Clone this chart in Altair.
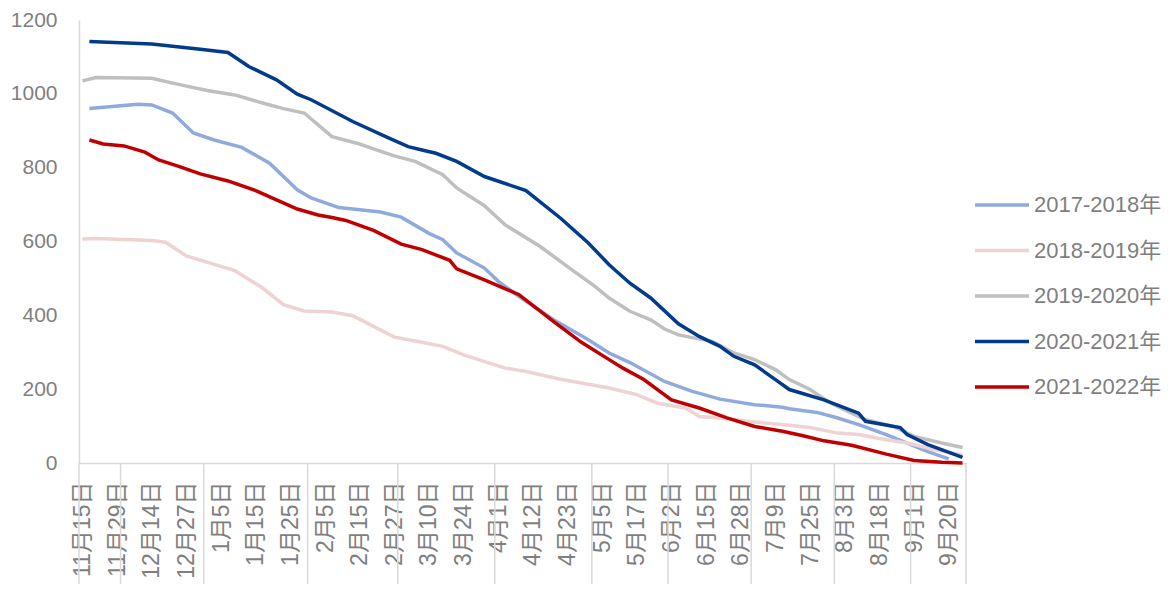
import altair as alt
import pandas as pd

# ---- data (category index -> value) ----
series_names = ["2017-2018年", "2018-2019年", "2019-2020年", "2020-2021年", "2021-2022年"]
series_colors = ["#8FAADC", "#EDD3D3", "#BFBFBF", "#023B8B", "#C00000"]

s2017_idx = [1, 8, 10, 13, 16, 19, 23, 27, 31, 33, 37, 43, 46, 50, 52, 54, 58, 60, 63, 68, 73, 76, 79, 84, 88, 92, 97, 101, 102, 106, 109, 112, 116, 119, 122, 125]
s2017_val = [960, 972, 970, 948, 894, 875, 855, 812, 740, 718, 692, 680, 666, 622, 605, 569, 528, 492, 451, 388, 334, 298, 272, 221, 194, 173, 158, 151, 147, 137, 122, 104, 77, 54, 31, 11]

s2018_idx = [0, 2, 10, 12, 15, 22, 26, 29, 32, 36, 39, 42, 45, 49, 52, 55, 61, 64, 69, 76, 80, 83, 87, 89, 92, 96, 102, 105, 109, 112, 116, 119, 123, 127]
s2018_val = [607, 608, 603, 598, 561, 521, 474, 429, 412, 409, 399, 370, 341, 327, 316, 293, 257, 248, 227, 203, 185, 162, 149, 126, 122, 113, 102, 96, 81, 77, 63, 54, 36, 22]

s2019_idx = [0, 2, 10, 13, 18, 22, 26, 29, 32, 36, 40, 42, 45, 48, 52, 54, 58, 61, 66, 70, 74, 76, 79, 82, 84, 86, 91, 94, 97, 100, 102, 105, 108, 113, 117, 120, 124, 127]
s2019_val = [1035, 1044, 1042, 1029, 1009, 997, 975, 960, 948, 884, 864, 851, 832, 817, 781, 745, 697, 645, 587, 532, 478, 447, 411, 388, 363, 347, 329, 298, 280, 253, 226, 199, 162, 117, 99, 72, 54, 42]

s2020_idx = [1, 10, 17, 21, 24, 28, 31, 33, 39, 44, 47, 49, 51, 54, 58, 64, 69, 73, 76, 79, 82, 86, 89, 92, 94, 97, 100, 102, 107, 112, 113, 118, 119, 122, 127]
s2020_val = [1142, 1135, 1121, 1112, 1074, 1038, 999, 984, 925, 882, 857, 848, 839, 817, 776, 738, 663, 596, 537, 487, 447, 377, 343, 316, 289, 266, 226, 199, 171, 135, 113, 96, 77, 50, 15]

s2021_idx = [1, 3, 6, 9, 11, 14, 17, 21, 25, 28, 31, 34, 36, 38, 42, 46, 49, 53, 54, 58, 63, 68, 72, 76, 78, 81, 85, 89, 93, 97, 101, 104, 107, 111, 116, 120, 124, 127]
s2021_val = [875, 864, 859, 842, 821, 803, 783, 764, 738, 713, 688, 672, 665, 657, 630, 593, 578, 549, 526, 496, 456, 383, 327, 280, 257, 226, 171, 149, 122, 99, 86, 74, 60, 48, 24, 7, 2, 0]

# x-axis: one label every 5 categories
tick_labels = ["11月15日", "11月29日", "12月14日", "12月27日", "1月5日", "1月15日", "1月25日",
               "2月5日", "2月15日", "2月27日", "3月10日", "3月24日", "4月1日", "4月12日",
               "4月23日", "5月5日", "5月17日", "6月2日", "6月15日", "6月28日", "7月9日",
               "7月25日", "8月3日", "8月18日", "9月1日", "9月20日"]
# number of categories in each month (Nov .. Sep)
month_counts = [6, 12, 15, 13, 14, 14, 11, 12, 12, 11, 8]

y_ticks = [0, 200, 400, 600, 800, 1000, 1200]

# ---- build tables ----
rows = []
for name, idxs, vals in zip(series_names,
                            [s2017_idx, s2018_idx, s2019_idx, s2020_idx, s2021_idx],
                            [s2017_val, s2018_val, s2019_val, s2020_val, s2021_val]):
    for i, v in zip(idxs, vals):
        rows.append({"series": name, "i": i, "v": v})
df = pd.DataFrame(rows)

n_cat = sum(month_counts)
bounds = [-0.5]
for c in month_counts:
    bounds.append(bounds[-1] + c)
sep_df = pd.DataFrame({"b": bounds})

FONT = "Liberation Sans, Noto Sans CJK SC"
GREY_TXT = "#7f7f7f"
AXIS_COL = "#d9d9d9"
W, H = 887, 443

label_expr = "[" + ",".join("'" + t + "'" for t in tick_labels) + "][round(datum.value / 5)]"

x_scale = alt.Scale(domain=[-0.5, n_cat - 0.5], nice=False, zero=False)
x_axis = alt.Axis(values=list(range(0, n_cat, 5)), labelExpr=label_expr, labelAngle=-90,
                  labelAlign="right", labelBaseline="middle", tickSize=0, labelPadding=18,
                  domainColor=AXIS_COL, domainWidth=1.5, grid=False, title=None,
                  labelFontSize=23, labelColor=GREY_TXT, labelFont=FONT,
                  labelOverlap=False, labelFlush=False, labelBound=False)

seps = alt.Chart(sep_df).mark_rule(color=AXIS_COL, strokeWidth=1.5).encode(
    x=alt.X("b:Q", scale=x_scale, axis=x_axis),
    y=alt.value(H),
    y2=alt.value(H + 125),
)

lines = alt.Chart(df).mark_line(strokeWidth=3.5, interpolate="linear").encode(
    x=alt.X("i:Q", scale=x_scale, axis=x_axis),
    y=alt.Y("v:Q", scale=alt.Scale(domain=[0, 1200], nice=False),
            axis=alt.Axis(values=y_ticks, format="d", tickSize=0, labelPadding=22, grid=False,
                          domainColor=AXIS_COL, domainWidth=1.5, title=None,
                          labelFontSize=21, labelColor=GREY_TXT, labelFont=FONT)),
    color=alt.Color("series:N",
                    scale=alt.Scale(domain=series_names, range=series_colors),
                    legend=alt.Legend(orient="none", legendX=894, legendY=173, title=None,
                                      symbolType="stroke", symbolSize=2916,
                                      symbolStrokeWidth=3.5, clipHeight=24,
                                      rowPadding=21.5, labelFontSize=22,
                                      labelColor=GREY_TXT, labelFont=FONT,
                                      labelOffset=3, padding=0)),
    order=alt.Order("i:Q"),
)

chart = alt.layer(seps, lines).properties(
    width=W, height=H,
    autosize=alt.AutoSizeParams(type="none"),
    padding={"left": 71, "top": 12, "right": 200, "bottom": 121},
    background="white",
).configure_view(stroke=None)

chart.save("out.html", embed_options={"renderer": "svg", "actions": False})
